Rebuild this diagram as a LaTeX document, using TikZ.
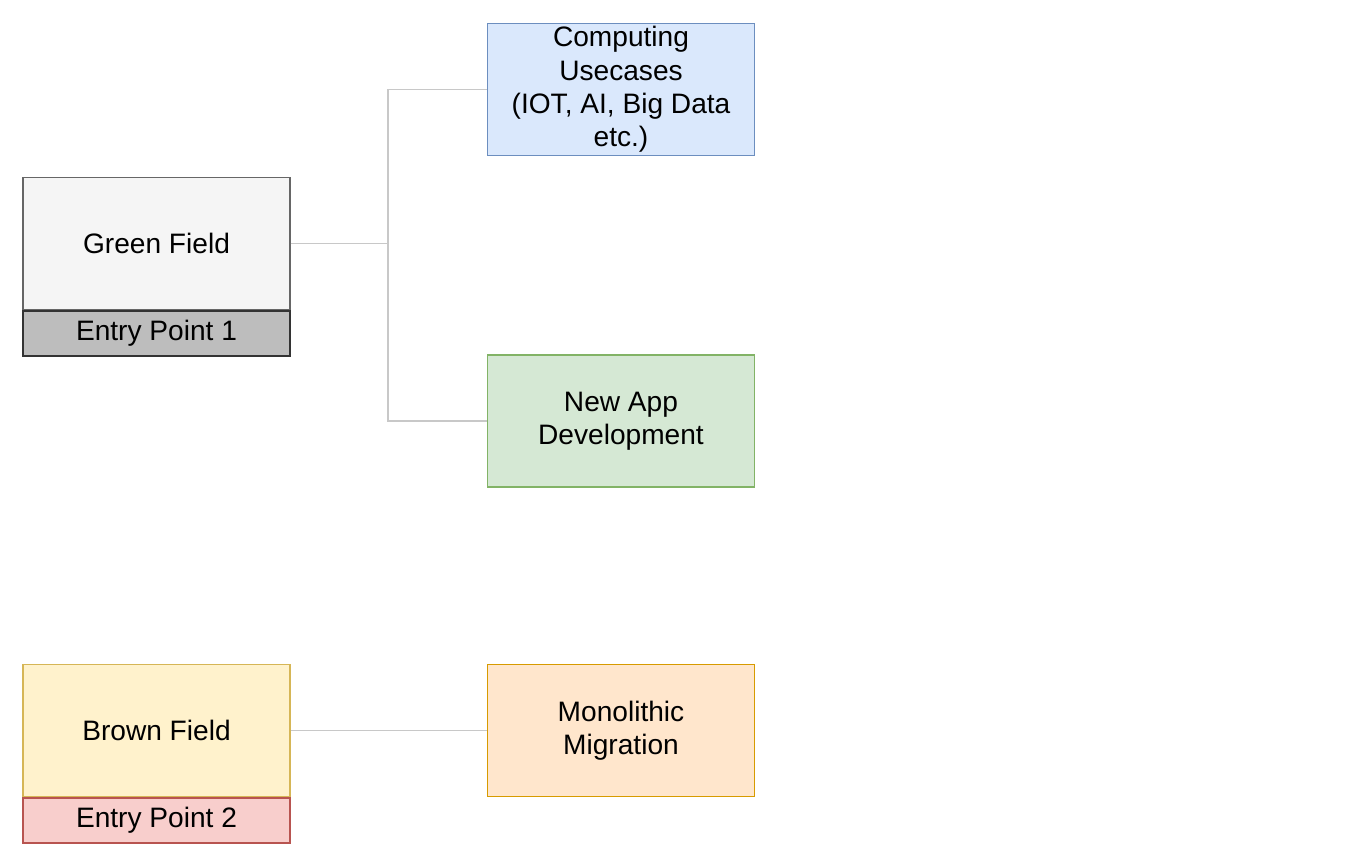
\documentclass[tikz,border=0pt]{standalone}
\usepackage{fontspec}
\setmainfont{Liberation Sans}
\usepackage{tikz}
\usetikzlibrary{positioning}
\usepackage{xcolor}
\definecolor{greyfill}{HTML}{F5F5F5}
\definecolor{greyline}{HTML}{666666}
\definecolor{entryfill}{HTML}{BDBDBD}
\definecolor{blueline}{HTML}{6C8EBF}
\definecolor{bluefill}{HTML}{DAE8FC}
\definecolor{greenline}{HTML}{82B366}
\definecolor{greenfill}{HTML}{D5E8D4}
\definecolor{yellowline}{HTML}{D6B656}
\definecolor{yellowfill}{HTML}{FFF2CC}
\definecolor{redline}{HTML}{B85450}
\definecolor{redfill}{HTML}{F8CECC}
\definecolor{orangeline}{HTML}{D79B00}
\definecolor{orangefill}{HTML}{FFE6CC}
\definecolor{linkgrey}{HTML}{C8C8C8}

\begin{document}
\begin{tikzpicture}[x=0.02cm, y=-0.02cm,
    box/.style={draw, line width=0.8pt, minimum width=5.34cm, minimum height=2.64cm,
        align=center, inner sep=0pt, font=\fontsize{16}{19}\selectfont},
    entry/.style={box, minimum height=0.9cm},
    link/.style={draw=linkgrey, line width=0.7pt}]
    \useasboundingbox (0,0) rectangle (1366,854);
    % entry points
    \node[box, fill=greyfill, draw=greyline] (green) at (156.5,243.5) {Green Field};
    \node[entry, fill=entryfill, draw=black!80, below=0pt of green] (entry1) {Entry Point 1};
    \node[box, fill=yellowfill, draw=yellowline] (brown) at (156.5,730.5) {Brown Field};
    \node[entry, fill=redfill, draw=redline, below=0pt of brown] (entry2) {Entry Point 2};
    % use cases
    \node[box, fill=bluefill, draw=blueline] (compute) at (621,89.5) {Computing\\Usecases\\(IOT, AI, Big Data\\etc.)};
    \node[box, fill=greenfill, draw=greenline] (newapp) at (621,421) {New App\\Development};
    \node[box, fill=orangefill, draw=orangeline] (mono) at (621,730.5) {Monolithic\\Migration};
    % links
    \coordinate (split) at (388,243.5);
    \draw[link] (green.east) -- (split);
    \draw[link] (split) |- (compute.west);
    \draw[link] (split) |- (newapp.west);
    \draw[link] (brown.east) -- (mono.west);
\end{tikzpicture}
\end{document}
